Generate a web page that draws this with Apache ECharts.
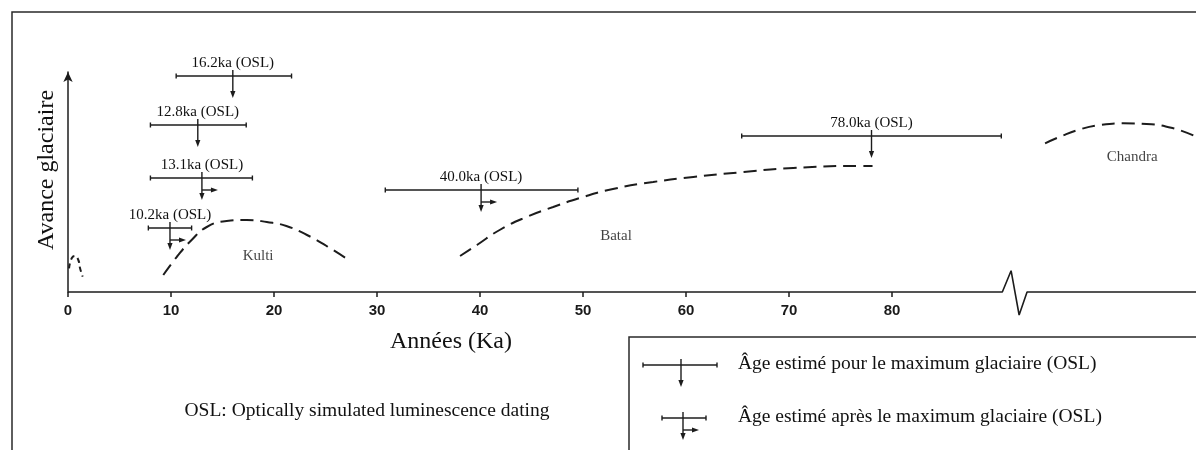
<!DOCTYPE html>
<html><head><meta charset="utf-8">
<script src="https://cdn.jsdelivr.net/npm/echarts@6/dist/echarts.min.js"></script>
<style>html,body{margin:0;padding:0;background:#fff}#c{width:1196px;height:450px}</style>
</head><body><div id="c"></div>
<script>
// ---- data ----
const tickValues = [0, 10, 20, 30, 40, 50, 60, 70, 80];

const smallX = [0.1, 0.36, 0.68, 1.0, 1.17, 1.43];
const smallY = [23.7, 33.7, 36, 32, 23.7, 15.3];

const kultiX = [9.25, 10.55, 12.0, 13.47, 15.4, 17.35, 19.3, 21.2, 23.2, 25.1, 27.4];
const kultiY = [17, 35, 52, 65, 71, 72, 70, 66, 57, 46, 31];

const batalX = [38.06, 39.7, 41.9, 44.5, 47.1, 49.7, 52.9, 56.8, 60.7, 65.6, 70.4, 76.9, 78.1];
const batalY = [36, 47, 62, 75, 85, 94, 103, 110, 115, 120, 124, 126, 126];

const chandraX = [94.85, 96.3, 98.25, 100.2, 102.45, 104.7, 107.3, 109.5];
const chandraY = [148.7, 155.3, 162.7, 167, 168.7, 168, 163.7, 155.3];

const baseX = [0, 90.7, 91.55, 92.33, 93.1, 109.5];
const baseY = [0, 0, 21.3, -23, 0, 0];

const oslLabels = ['16.2ka (OSL)', '12.8ka (OSL)', '13.1ka (OSL)', '10.2ka (OSL)', '40.0ka (OSL)', '78.0ka (OSL)'];
const oslAge   = [16.0, 12.6, 13.0, 9.9, 40.1, 78.0];
const oslLow   = [10.5, 8.0, 8.0, 7.8, 30.8, 65.4];
const oslHigh  = [21.7, 17.3, 17.9, 12.0, 49.5, 90.6];
const oslLevel = [216, 167, 114, 64, 102, 156];
const oslKind  = ['max', 'max', 'after', 'after', 'after', 'max'];

const regionNames = ['Kulti', 'Batal', 'Chandra'];
const regionX = [18.45, 53.2, 103.3];
const regionY = [36, 56, 135];

const legendTexts = ['Âge estimé pour le maximum glaciaire (OSL)', 'Âge estimé après le maximum glaciaire (OSL)'];
const yName = 'Avance glaciaire';
const xName = 'Années (Ka)';
const noteText = 'OSL: Optically simulated luminescence dating';

// ---- chart ----
const SERIF = '"Liberation Serif", "Times New Roman", serif';
const INK = '#1c1c1c';
const zip = (xs, ys) => xs.map((x, i) => [x, ys[i]]);
const dashed = { color: INK, width: 2, type: [13, 7] };

const chart = echarts.init(document.getElementById('c'), null, { renderer: 'canvas' });

function arrowDown(x, y) { return { type: 'polygon', shape: { points: [[x - 2.6, y - 7], [x + 2.6, y - 7], [x, y]] }, style: { fill: INK } }; }
function arrowRight(x, y) { return { type: 'polygon', shape: { points: [[x - 7, y - 2.6], [x - 7, y + 2.6], [x, y]] }, style: { fill: INK } }; }
function seg(x1, y1, x2, y2, w) { return { type: 'line', shape: { x1, y1, x2, y2 }, style: { stroke: INK, lineWidth: w || 1.4 } }; }

function markGlyph(cx, cy, left, right, after) {
  const ch = [
    seg(left, cy, right, cy), seg(left, cy - 2.5, left, cy + 2.5), seg(right, cy - 2.5, right, cy + 2.5),
    seg(cx, cy - 6, cx, cy + 16), arrowDown(cx, cy + 22)
  ];
  if (after) { ch.push(seg(cx, cy + 12, cx + 10, cy + 12)); ch.push(arrowRight(cx + 16, cy + 12)); }
  return ch;
}

const option = {
  animation: false,
  grid: { left: 68, right: 0, top: 72, bottom: 158, containLabel: false },
  xAxis: {
    type: 'value', min: 0, max: 109.5,
    axisLine: { show: false },
    axisTick: { show: true, length: 5, customValues: tickValues, lineStyle: { color: INK, width: 1.5 } },
    axisLabel: { show: true, customValues: tickValues, margin: 11, fontSize: 15, fontWeight: 'bold', color: '#1a1a1a', fontFamily: '"Liberation Sans", Arial, sans-serif' },
    splitLine: { show: false }
  },
  yAxis: {
    type: 'value', min: 0, max: 220,
    axisLine: { show: true, symbol: ['none', 'arrow'], symbolSize: [7, 10], lineStyle: { color: INK, width: 1.5 } },
    axisTick: { show: false }, axisLabel: { show: false }, splitLine: { show: false }
  },
  series: [
    { type: 'line', data: zip(baseX, baseY), symbol: 'none', clip: false, lineStyle: { color: INK, width: 1.6 }, z: 3 },
    { type: 'line', data: zip(smallX, smallY), symbol: 'none', smooth: true, lineStyle: { color: INK, width: 2, type: [5, 4] } },
    { type: 'line', data: zip(kultiX, kultiY), symbol: 'none', smooth: true, lineStyle: dashed },
    { type: 'line', data: zip(batalX, batalY), symbol: 'none', smooth: true, lineStyle: dashed },
    { type: 'line', data: zip(chandraX, chandraY), symbol: 'none', smooth: true, lineStyle: dashed },
    {
      type: 'scatter', symbolSize: 0, silent: true,
      data: regionNames.map((n, i) => ({ name: n, value: [regionX[i], regionY[i]] })),
      label: { show: true, position: 'inside', formatter: '{b}', fontFamily: SERIF, fontSize: 15, color: '#111' }
    },
    {
      type: 'custom', clip: false,
      data: oslAge.map((v, i) => [v, oslLow[i], oslHigh[i], oslLevel[i]]),
      renderItem: function (params, api) {
        const i = params.dataIndex;
        const p = api.coord([api.value(0), api.value(3)]);
        const a = api.coord([api.value(1), api.value(3)]);
        const b = api.coord([api.value(2), api.value(3)]);
        const ch = markGlyph(p[0], p[1], a[0], b[0], oslKind[i] === 'after');
        ch.push({ type: 'text', x: p[0], y: p[1] - 13, style: { text: oslLabels[i], fontSize: 15, fontFamily: SERIF, fill: '#111', align: 'center', verticalAlign: 'middle' } });
        return { type: 'group', children: ch };
      }
    }
  ],
  graphic: [
    { type: 'rect', shape: { x: 12, y: 12, width: 1400, height: 600 }, style: { fill: 'none', stroke: '#2a2a2a', lineWidth: 1.5 }, silent: true },
    { type: 'text', x: 46.5, y: 170, rotation: Math.PI / 2, style: { text: yName, fontSize: 24, fontFamily: SERIF, fill: '#111', align: 'center', verticalAlign: 'middle' } },
    { type: 'text', x: 451, y: 342, style: { text: xName, fontSize: 24, fontFamily: SERIF, fill: '#111', align: 'center', verticalAlign: 'middle' } },
    { type: 'text', x: 367, y: 411, style: { text: noteText, fontSize: 19.5, fontFamily: SERIF, fill: '#111', align: 'center', verticalAlign: 'middle' } },
    { type: 'rect', shape: { x: 629, y: 337, width: 800, height: 300 }, style: { fill: '#fff', stroke: '#2a2a2a', lineWidth: 1.5 } },
    { type: 'group', children: markGlyph(681, 365, 643, 717, false) },
    { type: 'group', children: markGlyph(683, 418, 662, 706, true) },
    { type: 'text', x: 738, y: 364, style: { text: legendTexts[0], fontSize: 19.5, fontFamily: SERIF, fill: '#111', align: 'left', verticalAlign: 'middle' } },
    { type: 'text', x: 738, y: 417, style: { text: legendTexts[1], fontSize: 19.5, fontFamily: SERIF, fill: '#111', align: 'left', verticalAlign: 'middle' } }
  ]
};
chart.setOption(option);
</script>
</body></html>
